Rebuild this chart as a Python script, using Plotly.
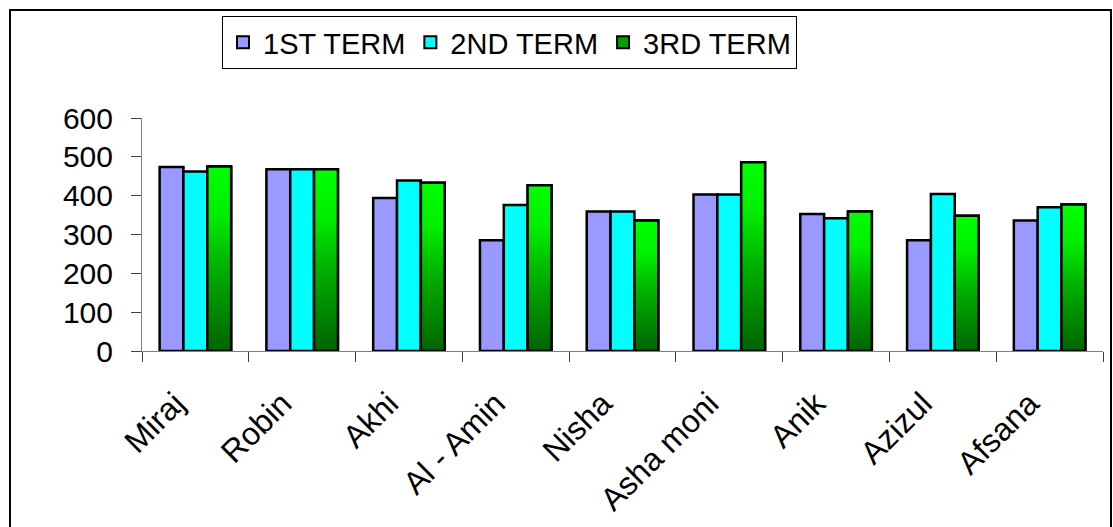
import plotly.graph_objects as go

students = ["Miraj", "Robin", "Akhi", "Al - Amin", "Nisha", "Asha moni", "Anik", "Azizul", "Afsana"]
term1 = [474, 468, 394, 285, 359, 403, 353, 285, 336]
term2 = [462, 468, 439, 376, 359, 403, 342, 404, 370]
term3 = [475, 468, 433, 427, 336, 486, 359, 348, 377]
y_ticks = [0, 100, 200, 300, 400, 500, 600]

FONT = "Arial, Liberation Sans, sans-serif"
BARGAP = 0.33
GREEN_SCALE = [[0, "#006400"], [0.45, "#00b000"], [0.75, "#00f000"], [1, "#00ff00"]]
EDGE = 2.5

fig = go.Figure()
fig.add_trace(go.Bar(name="1ST TERM", x=students, y=term1,
                     marker=dict(color="#9999ff", line=dict(color="black", width=EDGE))))
fig.add_trace(go.Bar(name="2ND TERM", x=students, y=term2,
                     marker=dict(color="#00ffff", line=dict(color="black", width=EDGE))))
fig.add_trace(go.Bar(name="3RD TERM", x=students, y=term3,
                     marker=dict(color="#00a000", line=dict(color="black", width=EDGE))))

# gradient overlay for the 3rd-term bars, derived from the grouped-bar geometry
n_series = 3
bw = (1 - BARGAP) / n_series
for i, v in enumerate(term3):
    x0 = i - (1 - BARGAP) / 2 + 2 * bw
    x1 = x0 + bw
    fig.add_trace(go.Scatter(
        x=[x0, x0, x1, x1, x0], y=[0, v, v, 0, 0], xaxis="x2",
        mode="lines", fill="toself",
        fillgradient=dict(type="vertical", colorscale=GREEN_SCALE),
        line=dict(color="black", width=EDGE),
        showlegend=False, hoverinfo="skip"))

# outer chart border (paper coords)
L, R, T, B = 142, 10, 118, 176
W, H = 1113, 527
pw, ph = W - L - R, H - T - B
def px(X):
    return (X - L) / pw
def py(Y):
    return (H - B - Y) / ph

fig.add_shape(type="rect", xref="paper", yref="paper",
              x0=px(10), x1=px(1111), y0=py(545), y1=py(10),
              line=dict(color="black", width=2), fillcolor="rgba(0,0,0,0)", layer="below")

fig.update_layout(
    width=W, height=H,
    margin=dict(l=L, r=R, t=T, b=B),
    paper_bgcolor="white", plot_bgcolor="white",
    barmode="group", bargap=BARGAP, bargroupgap=0,
    font=dict(family=FONT, color="black"),
    legend=dict(orientation="h", x=px(222), y=py(16), xanchor="left", yanchor="top",
                bordercolor="black", borderwidth=1, font=dict(size=29, family=FONT),
                bgcolor="white", itemsizing="constant"),
    xaxis=dict(type="category", range=[-0.5, len(students) - 0.5],
               showline=True, linecolor="#808080", linewidth=1,
               ticks="outside", tickson="boundaries", ticklen=10, tickcolor="#404040",
               tickangle=-45, tickfont=dict(size=32, family=FONT), showgrid=False,
               ticklabelstandoff=20, ticklabelshift=-20),
    xaxis2=dict(overlaying="x", range=[-0.5, len(students) - 0.5], visible=False),
    yaxis=dict(range=[0, 600], tickvals=y_ticks, showline=True, linecolor="#808080",
               linewidth=1, ticks="outside", ticklen=10, tickcolor="#404040",
               tickfont=dict(size=30, family=FONT), showgrid=False, zeroline=False,
               ticklabelstandoff=12),
)

fig.write_html("out.html", config={"displayModeBar": False},
               post_script="document.body.style.margin='0';")
